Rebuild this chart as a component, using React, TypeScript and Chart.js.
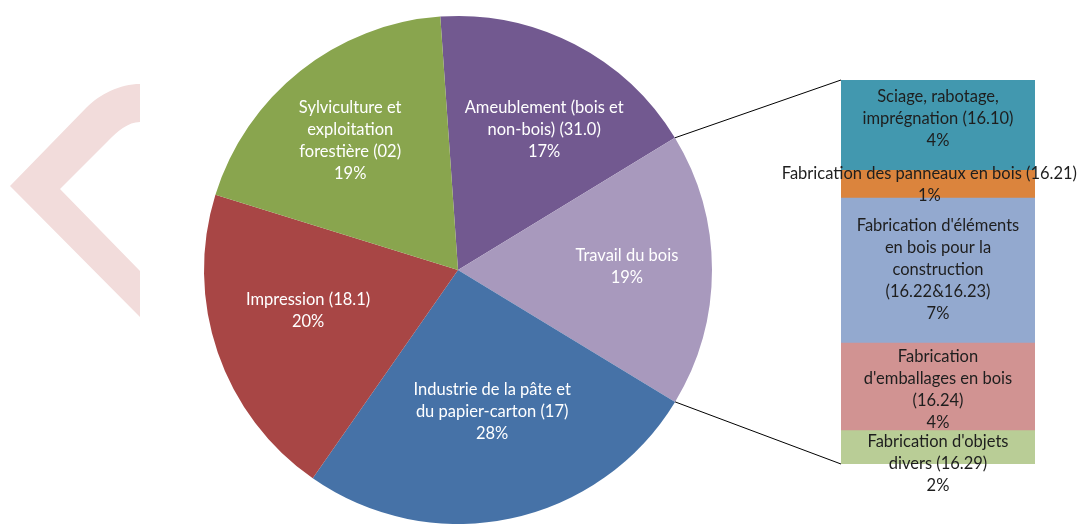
import React, { useEffect, useRef } from "react";
import { Chart, registerables } from "chart.js";

Chart.register(...registerables);

// ---- Data ----
const pieCategories = [
  "Ameublement (bois et non-bois) (31.0)",
  "Travail du bois",
  "Industrie de la pâte et du papier-carton (17)",
  "Impression (18.1)",
  "Sylviculture et exploitation forestière (02)",
];
const pieValues = [17.4, 17.4, 26.0, 20.1, 19.1];
const piePercentLabels = ["17%", "19%", "28%", "20%", "19%"];
const pieLabelLines = [
  ["Ameublement (bois et", "non-bois) (31.0)"],
  ["Travail du bois"],
  ["Industrie de la pâte et", "du papier-carton (17)"],
  ["Impression (18.1)"],
  ["Sylviculture et", "exploitation", "forestière (02)"],
];
const pieColors = ["#725990", "#A899BD", "#4672A7", "#A84645", "#89A54E"];

const barCategories = [
  "Sciage, rabotage, imprégnation (16.10)",
  "Fabrication des panneaux en bois (16.21)",
  "Fabrication d'éléments en bois pour la construction (16.22&16.23)",
  "Fabrication d'emballages en bois (16.24)",
  "Fabrication d'objets divers (16.29)",
];
const barValues = [4.2, 1.3, 6.8, 4.1, 1.6];
const barPercentLabels = ["4%", "1%", "7%", "4%", "2%"];
const barLabelLines = [
  ["Sciage, rabotage,", "imprégnation (16.10)"],
  ["Fabrication des panneaux en bois (16.21)"],
  ["Fabrication d'éléments", "en bois pour la", "construction", "(16.22&16.23)"],
  ["Fabrication", "d'emballages en bois", "(16.24)"],
  ["Fabrication d'objets", "divers (16.29)"],
];
const barColors = ["#4298AF", "#DB843D", "#93A9CF", "#D19392", "#B9CD96"];

// ---- Layout / style ----
const W = 1079;
const H = 524;
const FONT = '16.5px Lato, "Open Sans", sans-serif';
const LINE_H = 22;
const pieLabelRadius = [0.647, 0.665, 0.575, 0.612, 0.662];
const pieLabelAngleShift = [4.3, -1, -1.6, 3.6, -1.5];
const barLabelDy = [-6, 1, 0, 4, 17];

function drawLines(ctx: CanvasRenderingContext2D, lines: string[], cx: number, cy: number) {
  const top = cy - ((lines.length - 1) * LINE_H) / 2;
  lines.forEach((l, i) => ctx.fillText(l, cx, top + i * LINE_H));
}

export default function App() {
  const pieCanvas = useRef<HTMLCanvasElement>(null);
  const barCanvas = useRef<HTMLCanvasElement>(null);

  useEffect(() => {
    const watermark = {
      id: "watermark",
      beforeDraw(chart: any) {
        const ctx = chart.ctx;
        ctx.save();
        ctx.fillStyle = "#F2DCDB";
        ctx.beginPath();
        ctx.moveTo(140, 84);
        ctx.bezierCurveTo(120, 84, 100, 94, 86, 108);
        ctx.lineTo(10, 186);
        ctx.lineTo(140, 317);
        ctx.lineTo(140, 271);
        ctx.lineTo(60, 189);
        ctx.lineTo(108, 141);
        ctx.bezierCurveTo(118, 131, 128, 122, 140, 122);
        ctx.closePath();
        ctx.fill();
        ctx.restore();
      },
    };

    const pieLabels = {
      id: "pieLabels",
      afterDatasetsDraw(chart: any) {
        const ctx = chart.ctx;
        const meta = chart.getDatasetMeta(0);
        ctx.save();
        ctx.font = FONT;
        ctx.fillStyle = "#FFFFFF";
        ctx.textAlign = "center";
        ctx.textBaseline = "middle";
        meta.data.forEach((arc: any, i: number) => {
          const mid = (arc.startAngle + arc.endAngle) / 2 + (pieLabelAngleShift[i] * Math.PI) / 180;
          const r = arc.outerRadius * pieLabelRadius[i];
          const cx = arc.x + Math.cos(mid) * r;
          const cy = arc.y + Math.sin(mid) * r;
          drawLines(ctx, [...pieLabelLines[i], piePercentLabels[i]], cx, cy);
        });
        ctx.restore();
      },
    };

    const pie = new Chart(pieCanvas.current!, {
      type: "pie",
      data: {
        labels: pieCategories,
        datasets: [
          {
            data: pieValues,
            backgroundColor: pieColors,
            borderWidth: 0,
          },
        ],
      },
      options: {
        animation: false,
        responsive: false,
        rotation: -4,
        layout: { padding: { left: 204, right: W - 712, top: 16, bottom: 0 } },
        plugins: { legend: { display: false }, tooltip: { enabled: false } },
      },
      plugins: [watermark, pieLabels],
    });

    const barLabels = {
      id: "barLabels",
      afterDatasetsDraw(chart: any) {
        const ctx = chart.ctx;
        ctx.save();
        ctx.font = FONT;
        ctx.fillStyle = "#1E1E1E";
        ctx.textAlign = "center";
        ctx.textBaseline = "middle";
        chart.data.datasets.forEach((_d: any, i: number) => {
          const el: any = chart.getDatasetMeta(i).data[0];
          const lines = [...barLabelLines[i], barPercentLabels[i]];
          const maxW = Math.max(...lines.map((l) => ctx.measureText(l).width));
          const cx = Math.min(el.x, W - 2 - maxW / 2);
          const cy = (el.y + el.base) / 2 + barLabelDy[i];
          drawLines(ctx, lines, cx, cy);
        });
        ctx.restore();
      },
      afterDraw(chart: any) {
        const arc: any = pie.getDatasetMeta(0).data[1];
        if (!arc) return;
        const ctx = chart.ctx;
        const a = chart.chartArea;
        const R = arc.outerRadius;
        ctx.save();
        ctx.strokeStyle = "#000000";
        ctx.lineWidth = 1;
        ctx.beginPath();
        ctx.moveTo(arc.x + Math.cos(arc.startAngle) * R, arc.y + Math.sin(arc.startAngle) * R);
        ctx.lineTo(a.left, a.top);
        ctx.moveTo(arc.x + Math.cos(arc.endAngle) * R, arc.y + Math.sin(arc.endAngle) * R);
        ctx.lineTo(a.left, a.bottom);
        ctx.stroke();
        ctx.restore();
      },
    };

    const total = barValues.reduce((s, v) => s + v, 0);
    const bar = new Chart(barCanvas.current!, {
      type: "bar",
      data: {
        labels: ["Travail du bois"],
        datasets: barCategories.map((name, i) => ({
          label: name,
          data: [barValues[i]],
          backgroundColor: barColors[i],
          borderWidth: 0,
          barPercentage: 1,
          categoryPercentage: 1,
        })),
      },
      options: {
        animation: false,
        responsive: false,
        layout: { padding: { left: 841, right: W - 1035, top: 80, bottom: H - 464 } },
        scales: {
          x: { stacked: true, display: false },
          y: { stacked: true, display: false, reverse: true, min: 0, max: total },
        },
        plugins: { legend: { display: false }, tooltip: { enabled: false } },
      },
      plugins: [barLabels],
    });

    return () => {
      bar.destroy();
      pie.destroy();
    };
  }, []);

  return (
    <div style={{ position: "fixed", left: 0, top: 0, width: W, height: H, background: "#fff" }}>
      <canvas ref={pieCanvas} width={W} height={H} style={{ position: "absolute", left: 0, top: 0 }} />
      <canvas ref={barCanvas} width={W} height={H} style={{ position: "absolute", left: 0, top: 0 }} />
    </div>
  );
}
